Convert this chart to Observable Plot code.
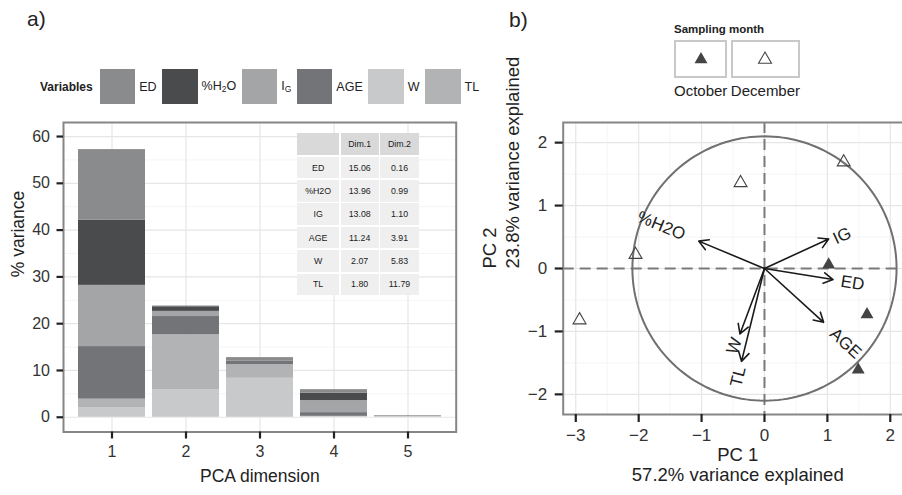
<!DOCTYPE html>
<html><head><meta charset="utf-8">
<script src="https://cdn.jsdelivr.net/npm/d3@7"></script>
<script src="https://cdn.jsdelivr.net/npm/@observablehq/plot@0.6"></script>
<style>
html,body{margin:0;padding:0;width:902px;height:495px;overflow:hidden;background:#fff;}
#root{position:relative;width:902px;height:495px;overflow:hidden;font-family:"Liberation Sans",Arial,Helvetica,sans-serif;color:#222;}
.abs{position:absolute;}
.panel-tag{position:absolute;font-size:21px;color:#222;line-height:1;}
#legA{position:absolute;left:40px;top:69px;height:35px;display:flex;align-items:center;}
#legA .title{font-weight:bold;font-size:12px;margin-right:7px;}
#legA .sw{width:35.5px;height:34.7px;margin-right:4px;}
#legA .lab{font-size:12.5px;margin-right:5.5px;}
#legA sub{font-size:8.5px;vertical-align:-2px;}
#tbl{position:absolute;left:297.3px;top:133.3px;display:grid;grid-template-columns:41.7px 38px 38.3px;grid-auto-rows:21.7px;gap:1.7px;background:#fff;}
#tbl div{display:flex;align-items:center;justify-content:center;font-size:8.8px;color:#222;background:#efefef;}
#tbl div.h{background:#d9d9d9;}
#legB{position:absolute;left:674px;top:23px;}
#legB .title{font-weight:bold;font-size:11.5px;height:17px;}
#legB .row{display:flex;gap:3.5px;}
#legB .item{display:flex;flex-direction:column;}
#legB .box{box-sizing:border-box;height:38px;border:2px solid #c8c8c8;display:flex;align-items:center;justify-content:center;}
#legB .lab{font-size:15px;line-height:1;margin-top:5px;}
</style></head><body><div id="root"></div>
<script>
// ---------- Panel a data ----------
const dims = [1, 2, 3, 4, 5];
const variables = ["ED", "%H2O", "IG", "AGE", "W", "TL"];
const variableColors = ["#8a8b8d", "#4a4b4d", "#a4a5a7", "#737477", "#c8c9cb", "#b2b3b5"];
const legendLabels = ["ED", "%H<sub>2</sub>O", "I<sub>G</sub>", "AGE", "W", "TL"];
const stackOrder = ["W", "TL", "AGE", "IG", "%H2O", "ED"];
const contribED   = [15.06, 0.16, 0.78, 0.77, 0.05];
const contribH2O  = [13.96, 0.99, 0.00, 1.56, 0.05];
const contribIG   = [13.08, 1.10, 0.00, 2.58, 0.05];
const contribAGE  = [11.24, 3.91, 0.71, 0.79, 0.05];
const contribW    = [2.07, 5.83, 8.33, 0.12, 0.10];
const contribTL   = [1.80, 11.79, 2.93, 0.08, 0.05];
const yTicksA = [0, 10, 20, 30, 40, 50, 60];
const yMinorA = [5, 15, 25, 35, 45, 55];
const tableHeader = ["", "Dim.1", "Dim.2"];
const tableRows = ["ED", "%H2O", "IG", "AGE", "W", "TL"];
const tableDim1 = ["15.06", "13.96", "13.08", "11.24", "2.07", "1.80"];
const tableDim2 = ["0.16", "0.99", "1.10", "3.91", "5.83", "11.79"];

// ---------- Panel b data ----------
const arrowVars = ["%H2O", "IG", "ED", "AGE", "W", "TL"];
const arrowX = [-1.045, 1.02, 1.09, 0.94, -0.39, -0.365];
const arrowY = [0.435, 0.47, -0.175, -0.855, -1.04, -1.475];
const labelX = [-1.64, 1.235, 1.40, 1.29, -0.48, -0.42];
const labelY = [0.68, 0.52, -0.23, -1.19, -1.23, -1.72];
const months = ["October", "December"];
const octoberX = [1.02, 1.63, 1.49];
const octoberY = [0.06, -0.73, -1.61];
const decemberX = [1.26, -0.38, -2.05, -2.94];
const decemberY = [1.69, 1.36, 0.22, -0.82];
const circleRadius = 2.1;
const pcTicksX = [-3, -2, -1, 0, 1, 2];
const pcMinorX = [-2.5, -1.5, -0.5, 0.5, 1.5];
const pcTicksY = [-2, -1, 0, 1, 2];
const pcMinorY = [-1.5, -0.5, 0.5, 1.5];

const FONT = '"Liberation Sans", Arial, Helvetica, sans-serif';
const root = d3.select("#root");

// ---------- build tables ----------
const contrib = {"ED": contribED, "%H2O": contribH2O, "IG": contribIG, "AGE": contribAGE, "W": contribW, "TL": contribTL};
const barData = dims.flatMap((d, i) => stackOrder.map(v => ({dim: d, variable: v, value: contrib[v][i]})));

const plotA = Plot.plot({
  width: 480, height: 495,
  marginLeft: 63, marginRight: 24.3, marginTop: 122, marginBottom: 63.5,
  style: {fontFamily: FONT, background: "transparent", color: "#333", overflow: "visible"},
  x: {type: "band", domain: dims, paddingInner: 0.1, paddingOuter: 0.17},
  y: {domain: [-3.15, 63]},
  color: {domain: variables, range: variableColors},
  marks: [
    Plot.gridY(yMinorA, {stroke: "#f3f3f3", strokeOpacity: 1, strokeWidth: 0.8}),
    Plot.gridY(yTicksA, {stroke: "#e6e6e6", strokeOpacity: 1, strokeWidth: 1.2}),
    Plot.gridX(dims, {stroke: "#e6e6e6", strokeOpacity: 1, strokeWidth: 1.2}),
    Plot.barY(barData, {x: "dim", y: "value", fill: "variable"}),
    Plot.frame({stroke: "#868686", strokeWidth: 2}),
    Plot.axisY(yTicksA, {tickSize: 6.5, tickPadding: 7, fontSize: 16, strokeWidth: 2.2, stroke: "#222", label: null}),
    Plot.axisX(dims, {tickSize: 7, tickPadding: 6.5, fontSize: 16, strokeWidth: 2.2, stroke: "#222", label: null}),
    Plot.text(["% variance"], {frameAnchor: "left", dx: -45, rotate: -90, fontSize: 17.5, fill: "#222"}),
    Plot.text(["PCA dimension"], {frameAnchor: "bottom", dy: 50, fontSize: 17.5, fill: "#222"})
  ]
});
d3.select(plotA).style("position", "absolute").style("left", "0px").style("top", "0px");
root.node().appendChild(plotA);

// ---------- panel b ----------
const arrowData = arrowVars.map((v, i) => ({v, x0: 0, y0: 0, x: arrowX[i], y: arrowY[i]}));
const labelData = arrowVars.map((v, i) => ({v, x: labelX[i], y: labelY[i], rot: -Math.atan(arrowY[i] / arrowX[i]) * 180 / Math.PI}));
const octData = octoberX.map((x, i) => ({x, y: octoberY[i]}));
const decData = decemberX.map((x, i) => ({x, y: decemberY[i]}));
const circleData = d3.range(0, 361, 2).map(a => ({x: circleRadius * Math.cos(a * Math.PI / 180), y: circleRadius * Math.sin(a * Math.PI / 180)}));
const fmt = d3.format("d");

const plotB = Plot.plot({
  width: 440, height: 495,
  marginLeft: 82.7, marginRight: 8.2, marginTop: 122, marginBottom: 81,
  style: {fontFamily: FONT, background: "transparent", color: "#333", overflow: "visible"},
  x: {domain: [-3.2, 2.35]},
  y: {domain: [-2.32, 2.32]},
  marks: [
    Plot.gridX(pcMinorX, {stroke: "#f3f3f3", strokeOpacity: 1, strokeWidth: 0.8}),
    Plot.gridY(pcMinorY, {stroke: "#f3f3f3", strokeOpacity: 1, strokeWidth: 0.8}),
    Plot.gridX(pcTicksX, {stroke: "#e6e6e6", strokeOpacity: 1, strokeWidth: 1.2}),
    Plot.gridY(pcTicksY, {stroke: "#e6e6e6", strokeOpacity: 1, strokeWidth: 1.2}),
    Plot.ruleX([0], {stroke: "#7a7a7a", strokeWidth: 2, strokeDasharray: "11,6"}),
    Plot.ruleY([0], {stroke: "#7a7a7a", strokeWidth: 2, strokeDasharray: "11,6"}),
    Plot.line(circleData, {x: "x", y: "y", stroke: "#707070", strokeWidth: 2}),
    Plot.dot(decData, {x: "x", y: "y", symbol: "triangle", fill: "none", stroke: "#444", strokeWidth: 1.1, r: 4.8}),
    Plot.dot(octData, {x: "x", y: "y", symbol: "triangle", fill: "#444", r: 4.8}),
    Plot.arrow(arrowData, {x1: "x0", y1: "y0", x2: "x", y2: "y", stroke: "#1a1a1a", strokeWidth: 1.6, headLength: 10, headAngle: 60}),
    Plot.text(labelData, {x: "x", y: "y", text: "v", rotate: "rot", fontSize: 17, fill: "#222"}),
    Plot.frame({stroke: "#868686", strokeWidth: 2}),
    Plot.axisY(pcTicksY, {tickSize: 8, tickPadding: 8, fontSize: 17, strokeWidth: 2.2, stroke: "#222", tickFormat: fmt, label: null}),
    Plot.axisX(pcTicksX, {tickSize: 8, tickPadding: 6, fontSize: 17, strokeWidth: 2.2, stroke: "#222", tickFormat: fmt, label: null}),
    Plot.text(["PC 1"], {frameAnchor: "bottom", dy: 46, fontSize: 18.5, fill: "#222"}),
    Plot.text(["57.2% variance explained"], {frameAnchor: "bottom", dy: 66, fontSize: 18.5, fill: "#222"}),
    Plot.text(["PC 2"], {frameAnchor: "left", dx: -73.2, rotate: -90, fontSize: 18.5, fill: "#222"}),
    Plot.text(["23.8% variance explained"], {frameAnchor: "left", dx: -50, rotate: -90, fontSize: 18.5, fill: "#222"})
  ]
});
d3.select(plotB).style("position", "absolute").style("left", "480px").style("top", "0px");
root.node().appendChild(plotB);

// ---------- panel tags ----------
root.append("div").attr("class", "panel-tag").style("left", "27px").style("top", "8px").text("a)");
root.append("div").attr("class", "panel-tag").style("left", "509px").style("top", "9px").text("b)");

// ---------- legend a ----------
const legA = root.append("div").attr("id", "legA");
legA.append("div").attr("class", "title").text("Variables");
variables.forEach((v, i) => {
  legA.append("div").attr("class", "sw").style("background", variableColors[i]);
  legA.append("div").attr("class", "lab").html(legendLabels[i]);
});

// ---------- table ----------
const tbl = root.append("div").attr("id", "tbl");
tableHeader.forEach(h => tbl.append("div").attr("class", "h").text(h));
tableRows.forEach((r, i) => {
  tbl.append("div").text(r);
  tbl.append("div").text(tableDim1[i]);
  tbl.append("div").text(tableDim2[i]);
});

// ---------- legend b ----------
const legB = root.append("div").attr("id", "legB");
legB.append("div").attr("class", "title").text("Sampling month");
const rowB = legB.append("div").attr("class", "row");
const tri = d3.symbol(d3.symbolTriangle, Math.PI * 4.8 * 4.8)();
months.forEach((m, i) => {
  const it = rowB.append("div").attr("class", "item");
  const box = it.append("div").attr("class", "box");
  const s = box.append("svg").attr("width", 16).attr("height", 16);
  s.append("path").attr("d", tri).attr("transform", "translate(8,8.5)")
    .attr("fill", i === 0 ? "#444" : "none").attr("stroke", "#444").attr("stroke-width", i === 0 ? 0 : 1.1);
  it.append("div").attr("class", "lab").text(m);
});
</script>
</body></html>
